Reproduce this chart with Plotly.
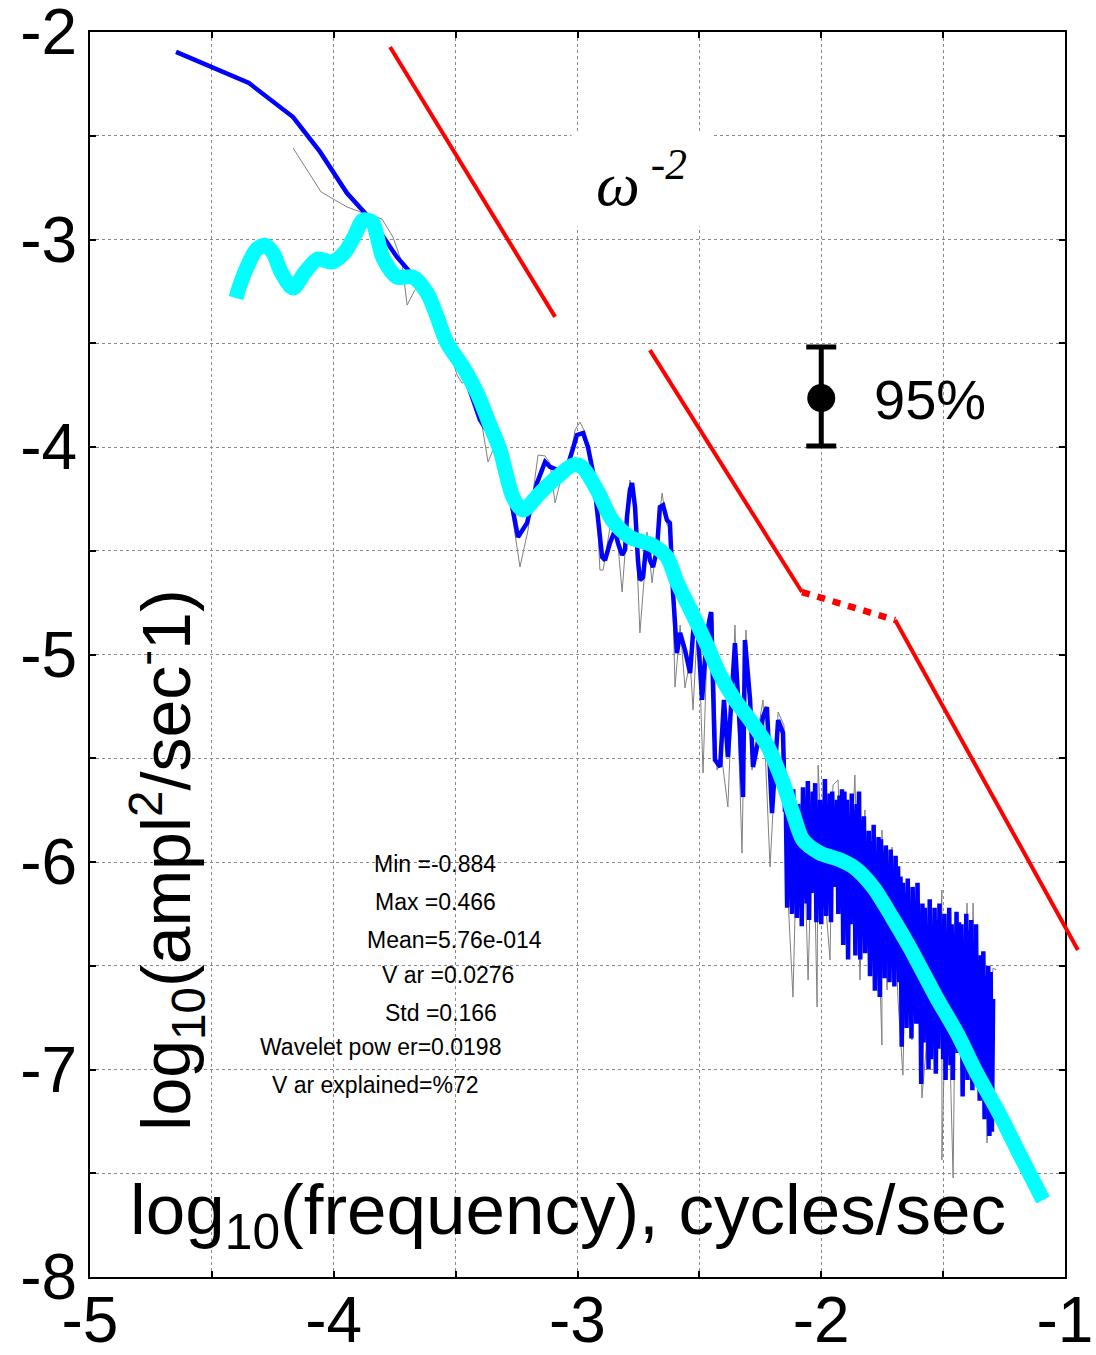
import plotly.graph_objects as go

# ---- spectrum data (log10 frequency, log10 power) ----
# raw periodogram (thin grey)
RAW_SPECTRUM = [
    (-4.167, -2.559), (-4.052, -2.771), (-3.946, -2.843), (-3.880, -2.872), (-3.802, -2.901),
    (-3.757, -2.988), (-3.720, -3.113), (-3.699, -3.316), (-3.667, -3.243), (-3.638, -3.210),
    (-3.576, -3.398), (-3.535, -3.499), (-3.494, -3.653), (-3.474, -3.692), (-3.453, -3.677),
    (-3.421, -3.798), (-3.392, -3.894), (-3.367, -4.072), (-3.338, -3.990), (-3.297, -4.111),
    (-3.265, -4.352), (-3.236, -4.578), (-3.203, -4.400), (-3.162, -4.039), (-3.133, -4.043),
    (-3.113, -4.077), (-3.092, -4.270), (-3.064, -4.135), (-3.043, -4.149), (-3.010, -3.918),
    (-2.990, -3.880), (-2.969, -3.928), (-2.949, -4.039), (-2.920, -4.304), (-2.908, -4.593),
    (-2.895, -4.593), (-2.875, -4.448), (-2.854, -4.289), (-2.834, -4.472), (-2.817, -4.699),
    (-2.801, -4.448), (-2.785, -4.159), (-2.764, -4.304), (-2.744, -4.896), (-2.727, -4.641),
    (-2.715, -4.410), (-2.694, -4.655), (-2.674, -4.448), (-2.653, -4.222), (-2.633, -4.376),
    (-2.616, -4.400), (-2.600, -5.157), (-2.579, -4.858), (-2.559, -5.161), (-2.538, -5.027),
    (-2.526, -5.267), (-2.506, -4.810), (-2.485, -5.571), (-2.465, -4.834), (-2.444, -4.800),
    (-2.428, -5.557), (-2.407, -5.508), (-2.383, -5.735), (-2.354, -4.858), (-2.325, -5.957),
    (-2.309, -4.882), (-2.284, -5.557), (-2.259, -5.364), (-2.239, -5.219), (-2.210, -6.024),
    (-2.177, -5.277), (-2.153, -5.340), (-2.136, -6.183), (-2.116, -6.651), (-2.099, -5.846),
    (-2.075, -5.701), (-2.054, -6.569), (-2.034, -5.701), (-2.017, -6.699), (-2.013, -5.533),
    (-1.993, -6.039), (-1.964, -6.472), (-1.952, -5.629), (-1.931, -5.605), (-1.915, -6.183),
    (-1.890, -6.304), (-1.862, -5.581), (-1.841, -6.569), (-1.821, -5.749), (-1.800, -6.472),
    (-1.775, -5.942), (-1.751, -6.882), (-1.751, -5.846), (-1.730, -6.617), (-1.710, -5.928),
    (-1.685, -6.665), (-1.665, -7.027), (-1.648, -6.087), (-1.628, -6.858), (-1.603, -6.207),
    (-1.587, -7.137), (-1.570, -6.906), (-1.550, -6.183), (-1.529, -6.858), (-1.505, -6.135),
    (-1.505, -7.436), (-1.484, -6.376), (-1.459, -7.523), (-1.447, -6.280), (-1.431, -6.858),
    (-1.414, -6.761), (-1.402, -6.198), (-1.390, -6.954), (-1.377, -6.198), (-1.365, -7.051),
    (-1.349, -6.569), (-1.336, -6.472), (-1.320, -7.354), (-1.308, -6.665), (-1.295, -6.511),
    (-1.283, -6.520),
]

# band-averaged spectrum (blue), low and mid frequencies
SMOOTHED_LOW = [
    (-4.647, -2.096), (-4.348, -2.246), (-4.167, -2.410), (-4.056, -2.578), (-3.946, -2.776),
    (-3.872, -2.872), (-3.810, -2.964), (-3.741, -3.084), (-3.687, -3.157), (-3.626, -3.267),
    (-3.576, -3.378), (-3.535, -3.499), (-3.482, -3.590), (-3.433, -3.764), (-3.400, -3.870),
    (-3.359, -3.942), (-3.318, -4.039), (-3.285, -4.183), (-3.265, -4.304), (-3.244, -4.434),
    (-3.207, -4.366), (-3.166, -4.173), (-3.133, -4.072), (-3.113, -4.096), (-3.080, -4.111),
    (-3.043, -4.101), (-3.023, -4.024), (-3.002, -3.942), (-2.977, -3.933), (-2.957, -4.000),
    (-2.936, -4.125), (-2.920, -4.289), (-2.899, -4.530), (-2.887, -4.545), (-2.867, -4.463),
    (-2.846, -4.400), (-2.834, -4.463), (-2.817, -4.520), (-2.805, -4.496), (-2.797, -4.337),
    (-2.785, -4.207), (-2.776, -4.173), (-2.764, -4.289), (-2.752, -4.545), (-2.744, -4.641),
    (-2.731, -4.627), (-2.715, -4.434), (-2.703, -4.545), (-2.690, -4.578), (-2.674, -4.496),
    (-2.662, -4.289), (-2.649, -4.280), (-2.633, -4.352), (-2.621, -4.366), (-2.608, -4.704),
    (-2.592, -4.993), (-2.579, -4.896), (-2.559, -4.978), (-2.538, -5.089), (-2.518, -4.771),
    (-2.506, -4.896), (-2.489, -5.219), (-2.469, -4.896), (-2.452, -4.795), (-2.436, -5.508),
    (-2.415, -5.542), (-2.399, -5.219), (-2.383, -5.494), (-2.354, -4.945), (-2.333, -5.378),
    (-2.321, -5.687), (-2.313, -4.930), (-2.292, -5.219), (-2.280, -5.542), (-2.259, -5.412),
    (-2.239, -5.301), (-2.223, -5.253), (-2.202, -5.764), (-2.177, -5.316), (-2.157, -5.378),
    (-2.149, -5.749),
]

# band-averaged spectrum (blue), densely sampled high frequencies
SMOOTHED_HIGH = [
    (-2.145, -5.75), (-2.140, -6.22), (-2.135, -5.70), (-2.130, -6.05), (-2.125, -5.82),
    (-2.120, -6.25), (-2.115, -5.65), (-2.110, -6.10), (-2.105, -5.90), (-2.100, -6.27),
    (-2.095, -5.72),
    (-2.090, -6.18), (-2.085, -5.76), (-2.080, -6.31), (-2.075, -5.64), (-2.070, -6.05),
    (-2.065, -5.80), (-2.060, -6.20), (-2.055, -5.61), (-2.050, -6.28), (-2.045, -5.72),
    (-2.040, -6.15), (-2.035, -5.66), (-2.030, -6.00), (-2.025, -5.62), (-2.020, -6.29),
    (-2.015, -5.85), (-2.010, -6.22), (-2.005, -5.70), (-2.000, -6.30), (-1.995, -5.90),
    (-1.990, -6.12), (-1.985, -5.60), (-1.980, -6.26), (-1.975, -5.75), (-1.970, -6.18),
    (-1.965, -5.67),
    (-1.960, -6.29), (-1.955, -5.66), (-1.950, -6.05), (-1.945, -5.74), (-1.940, -6.12),
    (-1.935, -5.70), (-1.930, -6.25), (-1.925, -5.68), (-1.920, -6.10), (-1.915, -5.65),
    (-1.910, -6.40), (-1.905, -5.66), (-1.900, -6.20), (-1.895, -5.70), (-1.890, -6.47),
    (-1.885, -5.80), (-1.880, -6.30), (-1.875, -5.67), (-1.870, -6.22), (-1.865, -5.75),
    (-1.860, -6.45), (-1.855, -5.72), (-1.850, -6.05), (-1.845, -5.66),
    (-1.840, -6.47), (-1.835, -5.80), (-1.830, -6.20), (-1.825, -5.78), (-1.820, -6.44),
    (-1.815, -5.95), (-1.810, -6.30), (-1.805, -5.85), (-1.800, -6.55), (-1.795, -5.90),
    (-1.790, -6.38), (-1.785, -5.82), (-1.780, -6.62), (-1.775, -5.98), (-1.770, -6.48),
    (-1.765, -5.88),
    (-1.760, -6.65), (-1.755, -5.89), (-1.750, -6.35), (-1.745, -5.95), (-1.740, -6.56),
    (-1.735, -5.92), (-1.730, -6.40), (-1.725, -6.00), (-1.720, -6.58), (-1.715, -5.94),
    (-1.710, -6.45), (-1.705, -6.05), (-1.700, -6.60), (-1.695, -5.97), (-1.690, -6.50),
    (-1.685, -6.02),
    (-1.680, -6.58), (-1.675, -6.07), (-1.670, -6.89), (-1.665, -6.10), (-1.660, -6.60),
    (-1.655, -6.15), (-1.650, -6.80), (-1.645, -6.08), (-1.640, -6.70), (-1.635, -6.20),
    (-1.630, -6.85), (-1.625, -6.12), (-1.620, -6.62), (-1.615, -6.25), (-1.610, -6.78),
    (-1.605, -6.10),
    (-1.600, -6.70), (-1.595, -6.27), (-1.590, -7.07), (-1.585, -6.20), (-1.580, -6.87),
    (-1.575, -6.22), (-1.570, -6.82), (-1.565, -6.30), (-1.560, -7.00), (-1.555, -6.18),
    (-1.550, -6.95), (-1.545, -6.35), (-1.540, -6.80), (-1.535, -6.22), (-1.530, -7.02),
    (-1.525, -6.28), (-1.520, -6.90), (-1.515, -6.20),
    (-1.510, -6.75), (-1.505, -6.33), (-1.500, -6.95), (-1.495, -6.25), (-1.490, -7.05),
    (-1.485, -6.42), (-1.480, -6.80), (-1.475, -6.22), (-1.470, -6.98), (-1.465, -6.30),
    (-1.460, -7.05), (-1.455, -6.35), (-1.450, -6.85), (-1.445, -6.24), (-1.440, -6.92),
    (-1.435, -6.29),
    (-1.430, -6.81), (-1.425, -6.30), (-1.420, -7.13), (-1.415, -6.47), (-1.410, -6.90),
    (-1.405, -6.25), (-1.400, -7.05), (-1.395, -6.33), (-1.390, -6.95), (-1.385, -6.28),
    (-1.380, -7.10), (-1.375, -6.40), (-1.370, -6.95), (-1.365, -6.30), (-1.360, -7.00),
    (-1.355, -6.57),
    (-1.350, -7.15), (-1.345, -6.45), (-1.340, -6.82), (-1.335, -6.43), (-1.330, -7.24),
    (-1.325, -6.55), (-1.320, -7.10), (-1.315, -6.50), (-1.310, -7.32), (-1.305, -6.53),
    (-1.300, -7.30), (-1.295, -6.66),
]

# wavelet global spectrum (thick cyan)
WAVELET_SPECTRUM = [
    (-4.401, -3.282), (-4.385, -3.219), (-4.352, -3.123), (-4.319, -3.051), (-4.282, -3.027),
    (-4.249, -3.065), (-4.216, -3.157), (-4.167, -3.234), (-4.118, -3.157), (-4.065, -3.094),
    (-4.007, -3.108), (-3.954, -3.060), (-3.913, -2.978), (-3.880, -2.906), (-3.843, -2.916),
    (-3.798, -3.089), (-3.741, -3.181), (-3.675, -3.181), (-3.617, -3.258), (-3.576, -3.373),
    (-3.535, -3.499), (-3.470, -3.614), (-3.412, -3.740), (-3.359, -3.894), (-3.318, -4.014),
    (-3.265, -4.241), (-3.224, -4.304), (-3.154, -4.222), (-3.084, -4.145), (-3.018, -4.087),
    (-2.982, -4.096), (-2.920, -4.207), (-2.858, -4.352), (-2.785, -4.434), (-2.694, -4.472),
    (-2.633, -4.530), (-2.592, -4.651), (-2.530, -4.800), (-2.469, -4.954), (-2.415, -5.099),
    (-2.354, -5.219), (-2.292, -5.316), (-2.223, -5.436), (-2.161, -5.605), (-2.116, -5.764),
    (-2.075, -5.894), (-2.005, -5.957), (-1.923, -5.990), (-1.862, -6.029), (-1.788, -6.120),
    (-1.710, -6.265), (-1.636, -6.414), (-1.533, -6.641), (-1.439, -6.834), (-1.369, -7.002),
    (-1.267, -7.219), (-1.185, -7.412), (-1.090, -7.629),
]

# omega^-2 reference slopes
SLOPE_A = [(-3.769, -2.072), (-3.092, -3.373)]
SLOPE_B = [(-2.703, -3.533), (-2.079, -4.699)]
SLOPE_GAP = [(-2.079, -4.699), (-1.697, -4.834)]
SLOPE_C = [(-1.697, -4.834), (-0.947, -6.424)]

# 95% confidence bar
CI_X = -2.0
CI_Y = -3.764
CI_UP = 0.246
CI_DOWN = 0.231

STATS_LINES = [
    ("Min =-0.884", -3.843, -6.010),
    ("Max =0.466", -3.839, -6.193),
    ("Mean=5.76e-014", -3.872, -6.376),
    ("V ar =0.0276", -3.810, -6.545),
    ("Std =0.166", -3.798, -6.728),
    ("Wavelet pow er=0.0198", -4.310, -6.892),
    ("V ar explained=%72", -4.262, -7.075),
]

X_TICKS = [-5, -4.5, -4, -3.5, -3, -2.5, -2, -1.5, -1]
Y_TICKS = [-8, -7.5, -7, -6.5, -6, -5.5, -5, -4.5, -4, -3.5, -3, -2.5, -2]


def split(pairs):
    return [p[0] for p in pairs], [p[1] for p in pairs]


def tick_text(vals):
    return [str(int(v)) if float(v).is_integer() else "" for v in vals]


FONT = "Arial, Liberation Sans, sans-serif"
SERIF = "Times New Roman, Liberation Serif, serif"

fig = go.Figure()

rx, ry = split(RAW_SPECTRUM)
fig.add_trace(go.Scatter(x=rx, y=ry, mode="lines",
                         line=dict(color="#808080", width=1), showlegend=False))
bx, by = split(SMOOTHED_LOW + SMOOTHED_HIGH)
fig.add_trace(go.Scatter(x=bx, y=by, mode="lines",
                         line=dict(color="#0000ff", width=4.5), showlegend=False))
cx, cy = split(WAVELET_SPECTRUM)
fig.add_trace(go.Scatter(x=cx, y=cy, mode="lines",
                         line=dict(color="#00ffff", width=15, shape="spline", smoothing=0.8),
                         showlegend=False))

# reference slopes live on an unclipped overlay so the last one runs past the frame
for seg, dash, w in [(SLOPE_A, "solid", 4), (SLOPE_B, "solid", 4),
                     (SLOPE_GAP, "8px,8px", 6.5), (SLOPE_C, "solid", 4)]:
    sx, sy = split(seg)
    fig.add_trace(go.Scatter(x=sx, y=sy, mode="lines", xaxis="x2", yaxis="y2",
                             line=dict(color="#ff0000", width=w, dash=dash),
                             showlegend=False))

fig.add_trace(go.Scatter(
    x=[CI_X], y=[CI_Y], mode="markers",
    marker=dict(color="black", size=28),
    error_y=dict(type="data", symmetric=False, array=[CI_UP], arrayminus=[CI_DOWN],
                 color="black", thickness=5, width=15),
    showlegend=False))

PLOT_W = 1096 - 90
FRAME_W = 975

axis_common = dict(
    showline=True, linecolor="black", linewidth=2, mirror="ticks",
    ticks="inside", ticklen=6, tickwidth=1.5, tickcolor="black",
    showgrid=True, gridcolor="#8a8a8a", gridwidth=1, griddash="dot",
    zeroline=False, automargin=False, ticklabeloverflow="allow",
    tickfont=dict(family=FONT, size=64, color="black"),
)

fig.update_layout(
    width=1096, height=1355,
    margin=dict(l=90, r=0, t=32, b=78, autoexpand=False),
    paper_bgcolor="white", plot_bgcolor="rgba(0,0,0,0)",
    xaxis=dict(domain=[0, FRAME_W / PLOT_W], range=[-5, -1],
               tickmode="array", tickvals=X_TICKS, ticktext=tick_text(X_TICKS),
               ticklabelstandoff=-14, **axis_common),
    yaxis=dict(domain=[0, 1], range=[-8, -2],
               tickmode="array", tickvals=Y_TICKS, ticktext=tick_text(Y_TICKS),
               ticklabelstandoff=-2, **axis_common),
    xaxis2=dict(domain=[0, 1], range=[-5, -5 + 4 * PLOT_W / FRAME_W],
                anchor="y2", visible=False, automargin=False),
    yaxis2=dict(domain=[0, 1], range=[-8, -2], anchor="x2", visible=False,
                automargin=False),
)

annotations = []
for txt, ax_, ay_ in STATS_LINES:
    annotations.append(dict(x=ax_, y=ay_, xref="x", yref="y", text=txt, showarrow=False,
                            xanchor="left", yanchor="middle",
                            font=dict(family=FONT, size=23, color="black")))

annotations.append(dict(x=-2.739, y=-2.708, xref="x", yref="y",
                        text="<i>ω</i><sup><i> -2</i></sup>", showarrow=False,
                        width=137, height=92, bgcolor="white",
                        font=dict(family=SERIF, size=62, color="black")))

annotations.append(dict(x=-1.791, y=-3.773, xref="x", yref="y", text="95%",
                        showarrow=False, xanchor="left", yanchor="middle",
                        font=dict(family=FONT, size=56, color="black")))

annotations.append(dict(x=-3.039, y=-7.70, xref="x", yref="y",
                        text="log<sub>10</sub>(frequency), cycles/sec",
                        showarrow=False, xanchor="center", yanchor="middle",
                        font=dict(family=FONT, size=71, color="black")))

annotations.append(dict(x=-4.685, y=-5.990, xref="x", yref="y",
                        text="log<sub>10</sub>(ampl<sup>2</sup>/sec<sup>-</sup>1)",
                        showarrow=False, textangle=-90, xanchor="center", yanchor="middle",
                        font=dict(family=FONT, size=68, color="black")))

fig.update_layout(annotations=annotations)

fig.write_html("out.html")
